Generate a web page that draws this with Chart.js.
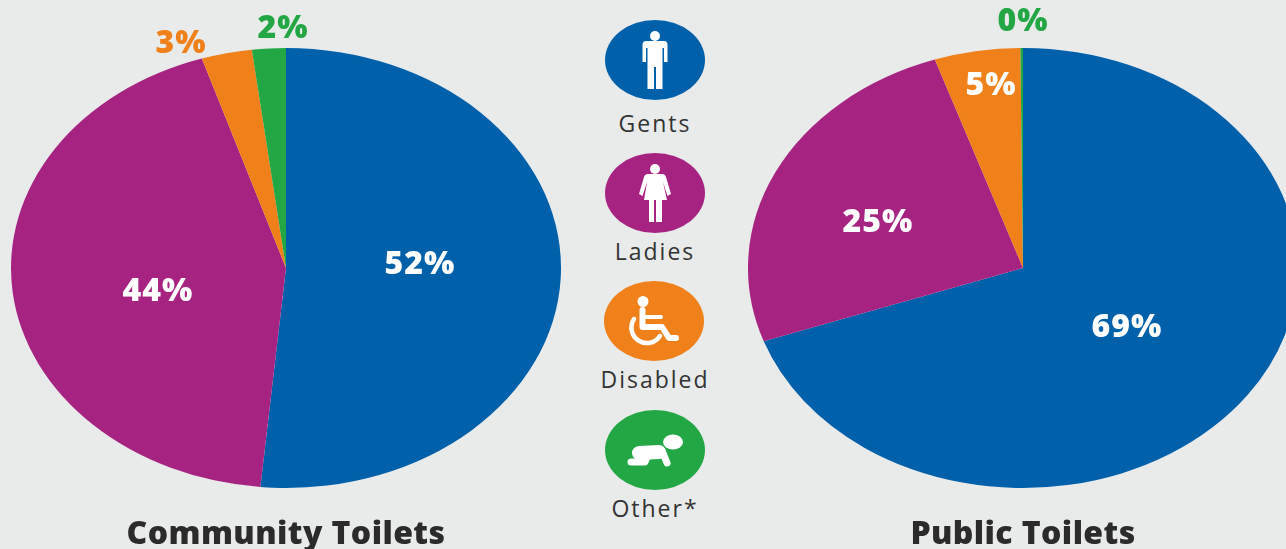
<!DOCTYPE html>
<html>
<head>
<meta charset="utf-8">
<title>Toilets by user group</title>
<script src="https://cdn.jsdelivr.net/npm/chart.js@4"></script>
<style>
html, body { margin: 0; width: 1286px; height: 549px; overflow: hidden; background: #e9ebeb; }
canvas { position: absolute; top: 0; }
#communityChart { left: 0; }
#publicChart { left: 737px; }
.key { position: absolute; left: 595px; width: 120px; text-align: center; font: 23px "Open Sans", sans-serif; letter-spacing: 2px; color: #333; }
.key svg { display: block; width: 100px; height: 80px; margin: 0 auto; }
.key span { display: block; line-height: 30px; }
</style>
</head>
<body>
<canvas id="communityChart" width="572" height="554"></canvas>
<canvas id="publicChart" width="572" height="554"></canvas>
<div class="key" style="top:20px"><svg viewBox="0 0 100 80"><ellipse cx="50" cy="40" rx="50" ry="40" fill="#0060a9"/><g fill="#fff"><circle cx="50" cy="16" r="5"/><path d="M41 21H59Q62.500 21 62.500 25V42H59V28H57.500V69H51V47H49V69H42.500V28H41V42H37.500V25Q37.500 21 41 21Z"/></g></svg><span id="key0" style="margin-top:8px"></span></div>
<div class="key" style="top:153px"><svg viewBox="0 0 100 80"><ellipse cx="50" cy="40" rx="50" ry="40" fill="#a62382"/><g fill="#fff"><circle cx="50" cy="16" r="5"/><path d="M43 21H57Q60 21 61 24L66 41L62.500 43L58 29L62 47H57V69H51V47H49V69H44V47H39L42 29L37.500 43L34 41L39 24Q40 21 43 21Z"/></g></svg><span id="key1" style="margin-top:3px"></span></div>
<div class="key" style="top:281px"><svg viewBox="0 0 100 80" style="position:relative;left:-1px"><ellipse cx="50" cy="40" rx="50" ry="40" fill="#f0801a"/><g fill="none" stroke="#fff" stroke-linecap="round" stroke-linejoin="round"><path d="M38.500 29V46H58L65 57H72" stroke-width="6"/><path d="M39 36H57" stroke-width="4"/><path d="M30 38A15 15 0 1 0 56 55" stroke-width="4.500"/></g><circle cx="39" cy="20.500" r="5.500" fill="#fff"/></svg><span id="key2" style="margin-top:3px"></span></div>
<div class="key" style="top:410px"><svg viewBox="0 0 100 80"><ellipse cx="50" cy="40" rx="50" ry="40" fill="#22a744"/><g fill="none" stroke="#fff" stroke-linecap="round" stroke-linejoin="round"><path d="M34 43L54 42" stroke-width="14"/><path d="M58 43L62 53" stroke-width="7"/><path d="M42 47L40 52H26" stroke-width="7"/></g><ellipse cx="68" cy="32" rx="10" ry="7.500" fill="#fff"/></svg><span id="key3" style="margin-top:3px"></span></div>

<script>
const categories = ['Gents', 'Ladies', 'Disabled', 'Other*'];
const communityValues = [52, 44, 3, 2];
// public "other" is a sliver that rounds down to 0%
const publicValues = [69, 25, 5, 0.15];
const sliceColors = ['#0060a9', '#a62382', '#f0801a', '#22a744'];

// where each percentage sits, relative to the pie centre
const communityLabelOffsets = [[134, -3], [-128, 24], [-105, -224], [-3, -239]];
const publicLabelOffsets = [[104, 60], [-145, -45], [-32, -182], [0, -246]];
const communityLabelColors = ['#fff', '#fff', '#f0801a', '#22a744'];
const publicLabelColors = ['#fff', '#fff', '#fff', '#22a744'];

// pies are stretched sideways into ellipses
const stretchX = 1.25;

const ellipsePlugin = {
    id: 'ellipse',
    beforeDraw(chart) {
        // the title picks this up too
        chart.ctx.letterSpacing = '0.4px';
    },
    beforeDatasetsDraw(chart) {
        const arc = chart.getDatasetMeta(0).data[0];
        const c = chart.ctx;
        c.save();
        c.translate(arc.x, 0);
        c.scale(stretchX, 1);
        c.translate(-arc.x, 0);
    },
    afterDatasetsDraw(chart) {
        chart.ctx.restore();
    }
};

const percentPlugin = {
    id: 'percent',
    afterDraw(chart, args, opts) {
        const c = chart.ctx;
        const values = chart.data.datasets[0].data;
        const arc = chart.getDatasetMeta(0).data[0];
        c.save();
        c.font = '800 32px "Open Sans", sans-serif';
        c.letterSpacing = '1px';
        c.textAlign = 'center';
        c.textBaseline = 'middle';
        values.forEach((v, i) => {
            c.fillStyle = opts.colors[i];
            c.fillText(Math.round(v) + '%', arc.x + opts.offsets[i][0], arc.y + opts.offsets[i][1]);
        });
        c.restore();
    }
};

function makePie(id, values, titleText, offsets, colors) {
    return new Chart(document.getElementById(id), {
        type: 'pie',
        data: {
            labels: categories,
            datasets: [{ data: values, backgroundColor: sliceColors, borderWidth: 0, clip: false }]
        },
        options: {
            responsive: false,
            animation: false,
            layout: { padding: { top: 48 } },
            plugins: {
                legend: { display: false },
                tooltip: { enabled: false },
                title: {
                    display: true,
                    text: titleText,
                    position: 'bottom',
                    color: '#2b2b2b',
                    font: { family: '"Open Sans", sans-serif', size: 32, weight: '800', lineHeight: 1 },
                    padding: { top: 31, bottom: 3 }
                },
                percent: { offsets: offsets, colors: colors }
            }
        },
        plugins: [ellipsePlugin, percentPlugin]
    });
}

categories.forEach((name, i) => {
    document.getElementById('key' + i).textContent = name;
});

makePie('communityChart', communityValues, 'Community Toilets', communityLabelOffsets, communityLabelColors);
makePie('publicChart', publicValues, 'Public Toilets', publicLabelOffsets, publicLabelColors);
</script>
</body>
</html>
